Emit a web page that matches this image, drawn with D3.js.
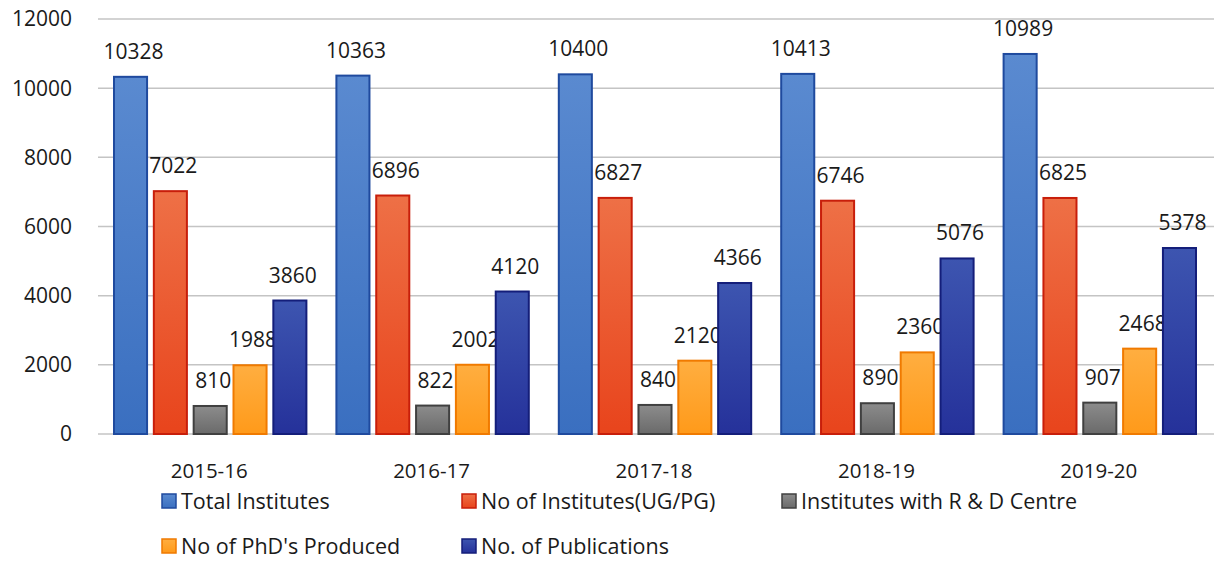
<!DOCTYPE html>
<html>
<head>
<meta charset="utf-8">
<script src="https://cdn.jsdelivr.net/npm/d3@7"></script>
<style>
  body { margin: 0; background: #fff; }
  text { font-family: "Open Sans", "Noto Sans", sans-serif; fill: #1a1a1a; }
</style>
</head>
<body>
<svg id="chart" width="1216" height="563"></svg>
<script>
var years = ["2015-16", "2016-17", "2017-18", "2018-19", "2019-20"];
var seriesNames = ["Total Institutes", "No of Institutes(UG/PG)", "Institutes with R & D Centre", "No of PhD's Produced", "No. of Publications"];
var totalInstitutes = [10328, 10363, 10400, 10413, 10989];
var ugpgInstitutes = [7022, 6896, 6827, 6746, 6825];
var rdCentres = [810, 822, 840, 890, 907];
var phdProduced = [1988, 2002, 2120, 2360, 2468];
var publications = [3860, 4120, 4366, 5076, 5378];
var yTicks = [0, 2000, 4000, 6000, 8000, 10000, 12000];

var allSeries = [totalInstitutes, ugpgInstitutes, rdCentres, phdProduced, publications];
// fill top, fill bottom, border
var colors = [
  ["#5a8ad0", "#3a6fc0", "#1f4a9e"],
  ["#ee7046", "#e8441c", "#c81e0a"],
  ["#8c8c8c", "#6a6a6a", "#404040"],
  ["#ffae40", "#ff9a1a", "#f07a00"],
  ["#3d55b0", "#25319a", "#141e7a"]
];

var svg = d3.select("#chart");
var defs = svg.append("defs");
colors.forEach(function (c, i) {
  var g = defs.append("linearGradient").attr("id", "grad" + i)
    .attr("x1", 0).attr("y1", 0).attr("x2", 0).attr("y2", 1);
  g.append("stop").attr("offset", "0%").attr("stop-color", c[0]);
  g.append("stop").attr("offset", "100%").attr("stop-color", c[1]);
});

var plotLeft = 98, plotRight = 1210, plotTop = 19, plotBottom = 434;

var x = d3.scaleBand().domain(years).range([plotLeft, plotRight]).paddingInner(0).paddingOuter(0);
var xs = d3.scaleBand().domain(d3.range(5)).range([16, x.bandwidth() - 14]).paddingInner(0.17);
var y = d3.scaleLinear().domain([0, 12000]).range([plotBottom, plotTop]);

// gridlines
svg.append("g").selectAll("line").data(yTicks).enter().append("line")
  .attr("x1", plotLeft).attr("x2", plotRight + 4)
  .attr("y1", function (d) { return y(d); }).attr("y2", function (d) { return y(d); })
  .attr("stroke", "#c4c4c4").attr("stroke-width", 1.5);

// y tick labels
svg.append("g").selectAll("text").data(yTicks).enter().append("text")
  .attr("x", 72).attr("y", function (d) { return y(d); })
  .attr("dy", "0.35em").attr("text-anchor", "end")
  .style("font-size", "21px")
  .text(function (d) { return d; });

// bars
var groups = svg.append("g").selectAll("g").data(years).enter().append("g")
  .attr("transform", function (d) { return "translate(" + x(d) + ",0)"; });

groups.each(function (yr, yi) {
  var g = d3.select(this);
  allSeries.forEach(function (s, si) {
    var v = s[yi];
    g.append("rect")
      .attr("x", xs(si)).attr("y", y(v))
      .attr("width", xs.bandwidth()).attr("height", plotBottom - y(v))
      .attr("fill", "url(#grad" + si + ")")
      .attr("stroke", colors[si][2]).attr("stroke-width", 2);
    g.append("text")
      .attr("x", xs(si) + xs.bandwidth() / 2 + 3).attr("y", y(v) - 18)
      .attr("text-anchor", "middle")
      .style("font-size", "21px")
      .text(v);
  });
});

// x labels
svg.append("g").selectAll("text").data(years).enter().append("text")
  .attr("x", function (d) { return x(d) + x.bandwidth() / 2; })
  .attr("y", 478)
  .attr("text-anchor", "middle")
  .style("font-size", "20.5px")
  .text(function (d) { return d; });

// legend
var legendPos = [[162, 501], [462, 501], [782, 501], [162, 546], [462, 546]];
var legend = svg.append("g").selectAll("g").data(seriesNames).enter().append("g")
  .attr("transform", function (d, i) { return "translate(" + legendPos[i][0] + "," + legendPos[i][1] + ")"; });
legend.append("rect")
  .attr("x", 0).attr("y", -7).attr("width", 14).attr("height", 14)
  .attr("fill", function (d, i) { return "url(#grad" + i + ")"; })
  .attr("stroke", function (d, i) { return colors[i][2]; }).attr("stroke-width", 1.5);
legend.append("text")
  .attr("x", 19).attr("y", 0).attr("dy", "0.35em")
  .style("font-size", "21.5px")
  .text(function (d) { return d; });
</script>
</body>
</html>
